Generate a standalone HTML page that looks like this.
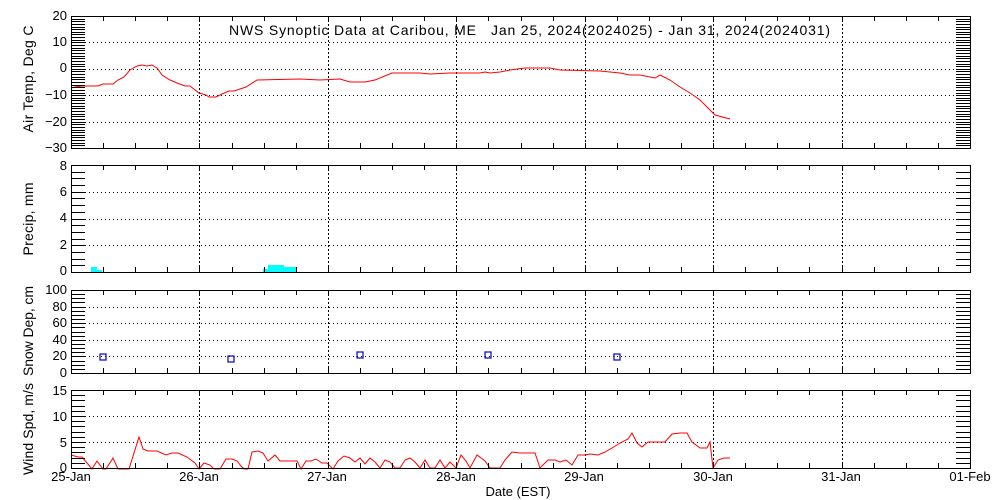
<!DOCTYPE html>
<html><head><meta charset="utf-8"><style>
html,body{margin:0;padding:0;background:#fff}
svg{display:block;font-family:"Liberation Sans",sans-serif;font-size:13px}
</style></head><body>
<svg id="s" width="1000" height="500" xmlns="http://www.w3.org/2000/svg">
<rect width="1000" height="500" fill="#fff"/>
<g id="grid"></g>
<g fill="#00ffff">
<rect x="91" y="267" width="6" height="5"/><rect x="97" y="270" width="5" height="2"/>
<rect x="263" y="269" width="5" height="3"/><rect x="268" y="265" width="16" height="7"/><rect x="284" y="267" width="12" height="5"/>
</g>
<g fill="none" stroke="#0000cc" stroke-width="1.2">
<rect x="100" y="354" width="6" height="6"/><rect x="228" y="356" width="6" height="6"/><rect x="357" y="352" width="6" height="6"/><rect x="485" y="352" width="6" height="6"/><rect x="614" y="354" width="6" height="6"/>
</g>
<polyline fill="none" stroke="#ff0000" stroke-width="1" points="71,88 75,87 82,86 98,86 103,84 113,84 118,80 124,77 130,70 137,66 142,65 147,66 152,65 157,68 162,75 170,80 177,83 185,86 190,86 199,93 206,95 209,97 216,97 222,94 229,91 234,91 240,89 246,87 257,80 300,79 320,80 340,79 350,82 365,82 375,80 392,73 420,73 430,74 450,73 480,73 485,72 490,73 500,72 510,70 525,68 550,68 560,70 600,71 620,73 630,75 640,75 645,76 655,78 660,75 670,80 680,87 690,93 700,100 710,110 715,115 730,119"/>
<polyline fill="none" stroke="#ff0000" stroke-width="1" points="71,455 78,457 82,457 92,469 97,461 103,469 106,469 113,458 118,469 129,469 139,437 143,449 148,451 157,451 166,455 172,453 178,453 187,457 195,463 199,469 204,463 210,465 214,469 220,469 226,459 232,459 237,461 241,466 244,469 248,469 252,452 258,451 263,453 268,461 275,455 280,461 297,461 301,469 306,461 311,461 316,459 322,463 327,463 333,469 338,461 344,456 350,458 355,462 360,458 365,464 370,458 375,462 380,468 385,460 390,462 395,468 400,468 405,460 410,458 415,462 420,468 425,460 430,468 435,468 440,460 445,468 450,462 456,468 461,455 466,461 470,468 477,455 485,461 490,468 500,468 505,460 512,452 520,453 535,453 540,468 548,460 555,460 560,462 566,460 572,465 578,455 585,455 590,454 598,455 605,452 612,448 620,443 628,439 632,433 637,443 642,447 648,442 655,442 665,442 672,434 680,433 687,433 692,442 700,448 707,448 710,442 713,468 718,460 724,458 730,458"/>
<text x="229" y="35" font-size="14" textLength="601" lengthAdjust="spacing" style="white-space:pre" xml:space="preserve">NWS Synoptic Data at Caribou, ME   Jan 25, 2024(2024025) - Jan 31, 2024(2024031)</text>
<g text-anchor="end">
<text x="67" y="20">20</text><text x="67" y="46">10</text><text x="67" y="72">0</text><text x="67" y="99">−10</text><text x="67" y="126">−20</text><text x="67" y="152">−30</text>
<text x="67" y="170">8</text><text x="67" y="196">6</text><text x="67" y="222">4</text><text x="67" y="249">2</text><text x="67" y="275">0</text>
<text x="67" y="294">100</text><text x="67" y="311">80</text><text x="67" y="327">60</text><text x="67" y="344">40</text><text x="67" y="360">20</text><text x="67" y="377">0</text>
<text x="67" y="395">15</text><text x="67" y="421">10</text><text x="67" y="447">5</text><text x="67" y="472">0</text>
</g>
<g text-anchor="middle">
<text x="71" y="481">25-Jan</text><text x="199" y="481">26-Jan</text><text x="327" y="481">27-Jan</text><text x="456" y="481">28-Jan</text><text x="584" y="481">29-Jan</text><text x="713" y="481">30-Jan</text><text x="841" y="481">31-Jan</text><text x="970" y="481">01-Feb</text>
<text x="518" y="496">Date (EST)</text>
<g font-size="14">
<text transform="translate(33,79) rotate(-90)" textLength="107" lengthAdjust="spacing">Air Temp, Deg C</text>
<text transform="translate(33,219) rotate(-90)" textLength="73" lengthAdjust="spacing">Precip, mm</text>
<text transform="translate(33,331) rotate(-90)" textLength="90" lengthAdjust="spacing">Snow Dep, cm</text>
<text transform="translate(33,429) rotate(-90)" textLength="92" lengthAdjust="spacing">Wind Spd, m/s</text>
</g>
</g>
<g id="frames" fill="none" stroke="#000"></g>
</svg>
<script>
var ns="http://www.w3.org/2000/svg",g=document.getElementById("grid"),f=document.getElementById("frames");
function L(p,x1,y1,x2,y2,dash){var l=document.createElementNS(ns,"line");l.setAttribute("x1",x1);l.setAttribute("y1",y1);l.setAttribute("x2",x2);l.setAttribute("y2",y2);l.setAttribute("stroke","#000");l.setAttribute("stroke-width","1");if(dash)l.setAttribute("stroke-dasharray",dash);p.appendChild(l);}
var X0=71,X1=970,dw=(X1-X0)/7;
var P=[[16,148,-30,20,1,10],[165,272,0,8,0.5,2],[290,373,0,100,5,20],[390,468,0,15,1,5]];
P.forEach(function(p){var t=p[0],b=p[1],lo=p[2],hi=p[3];
 var r=document.createElementNS(ns,"rect");r.setAttribute("x",X0+.5);r.setAttribute("y",t+.5);r.setAttribute("width",X1-X0);r.setAttribute("height",b-t);f.appendChild(r);
 for(var v=lo;v<=hi+1e-6;v+=p[4]){var y=Math.round(b-(v-lo)/(hi-lo)*(b-t))+.5;L(f,X0,y,X0+14,y);L(f,X1-14,y,X1,y);}
 for(var v=lo+p[5];v<hi-1e-6;v+=p[5]){var y=Math.round(b-(v-lo)/(hi-lo)*(b-t))+.5;L(g,X0+14,y,X1-14,y,"1,3");}
 for(var d=1;d<7;d++){var x=Math.round(X0+d*dw)+.5;L(g,x,t,x,b,"2,2");}
 for(var q=1;q<28;q++){var x=Math.round(X0+q*dw/4)+.5;L(f,x,t,x,t+5);L(f,x,b-5,x,b);}
});
</script>
</body></html>
